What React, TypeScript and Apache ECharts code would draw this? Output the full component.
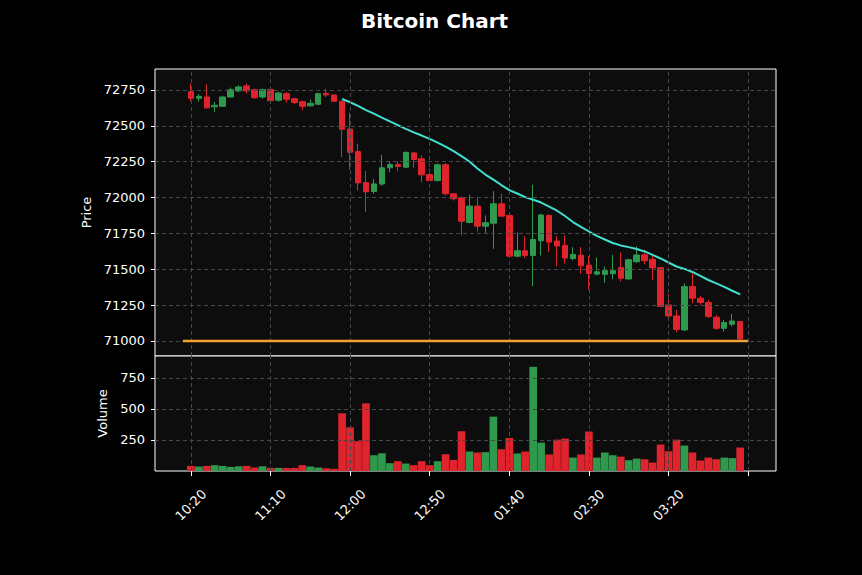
import React, { useEffect, useRef } from 'react';
import * as echarts from 'echarts';

const times = [
  '10:20', '10:25', '10:30', '10:35', '10:40', '10:45', '10:50', '10:55',
  '11:00', '11:05', '11:10', '11:15', '11:20', '11:25', '11:30', '11:35', '11:40', '11:45', '11:50', '11:55',
  '12:00', '12:05', '12:10', '12:15', '12:20', '12:25', '12:30', '12:35', '12:40', '12:45', '12:50', '12:55',
  '01:00', '01:05', '01:10', '01:15', '01:20', '01:25', '01:30', '01:35', '01:40', '01:45', '01:50', '01:55',
  '02:00', '02:05', '02:10', '02:15', '02:20', '02:25', '02:30', '02:35', '02:40', '02:45', '02:50', '02:55',
  '03:00', '03:05', '03:10', '03:15', '03:20', '03:25', '03:30', '03:35', '03:40', '03:45', '03:50', '03:55',
  '04:00', '04:05',
];
const padBefore = ['10:00', '10:05', '10:10', '10:15'];
const padAfter = ['04:10', '04:15', '04:20', '04:25'];

const opens = [
  72738, 72692, 72701, 72632, 72636, 72701, 72743, 72778, 72752, 72701,
  72754, 72678, 72724, 72689, 72668, 72639, 72650, 72726, 72715, 72671,
  72477, 72320, 72104, 72042, 72094, 72207, 72230, 72211, 72311, 72270,
  72160, 72118, 72228, 72026, 71996, 71826, 71940, 71800, 71821, 71956,
  71875, 71591, 71629, 71596, 71699, 71875, 71697, 71666, 71575, 71598,
  71528, 71466, 71464, 71469, 71511, 71432, 71552, 71601, 71569, 71511,
  71251, 71174, 71077, 71379, 71298, 71268, 71165, 71088, 71116, 71135,
];
const closes = [
  72692, 72705, 72625, 72643, 72701, 72752, 72771, 72743, 72696, 72752,
  72675, 72729, 72685, 72662, 72636, 72657, 72724, 72715, 72671, 72476,
  72315, 72102, 72040, 72095, 72207, 72230, 72216, 72315, 72265, 72158,
  72118, 72228, 72026, 71991, 71834, 71940, 71800, 71824, 71956, 71870,
  71591, 71629, 71596, 71707, 71878, 71689, 71662, 71578, 71603, 71524,
  71470, 71482, 71490, 71490, 71437, 71566, 71599, 71559, 71509, 71240,
  71174, 71081, 71379, 71298, 71268, 71170, 71088, 71128, 71139, 71014,
];
const lows = [
  72671, 72668, 72620, 72597, 72634, 72696, 72736, 72724, 72689, 72689,
  72659, 72668, 72662, 72650, 72608, 72638, 72648, 72701, 72668, 72283,
  72195, 72049, 71899, 72026, 72083, 72176, 72183, 72209, 72207, 72107,
  72115, 72111, 72014, 71979, 71735, 71820, 71763, 71747, 71643, 71868,
  71582, 71584, 71578, 71382, 71596, 71621, 71521, 71539, 71563, 71468,
  71357, 71457, 71405, 71430, 71414, 71427, 71545, 71536, 71427, 71238,
  71158, 71060, 71070, 71263, 71251, 71161, 71077, 71065, 71100, 71007,
];
const highs = [
  72796, 72722, 72789, 72666, 72710, 72766, 72782, 72794, 72759, 72759,
  72766, 72737, 72736, 72696, 72675, 72685, 72731, 72759, 72717, 72675,
  72592, 72376, 72185, 72130, 72297, 72253, 72251, 72320, 72316, 72293,
  72200, 72237, 72240, 72028, 72007, 72019, 71998, 71875, 72044, 72026,
  71882, 71754, 71730, 72089, 71887, 71882, 71731, 71736, 71654, 71654,
  71592, 71582, 71518, 71600, 71617, 71573, 71660, 71636, 71597, 71516,
  71325, 71216, 71402, 71472, 71314, 71286, 71181, 71146, 71188, 71139,
];
const volumes = [
  41, 36, 41, 47, 41, 33, 38, 41, 28, 38,
  25, 25, 25, 25, 47, 36, 28, 22, 17, 465,
  352, 240, 545, 127, 143, 63, 79, 60, 47, 79,
  47, 79, 135, 89, 320, 157, 149, 152, 438, 175,
  266, 141, 157, 840, 229, 133, 253, 261, 108, 133,
  318, 108, 149, 127, 116, 87, 100, 95, 68, 213,
  159, 253, 205, 149, 84, 108, 95, 108, 104, 189,
];
const maStartIndex = 19;
const maValues = [
  72687, 72664, 72639, 72609, 72585, 72557, 72531, 72505, 72479, 72454,
  72432, 72409, 72383, 72355, 72323, 72289, 72251, 72202, 72160, 72125,
  72087, 72052, 72028, 72003, 71984, 71965, 71937, 71908, 71871, 71829,
  71795, 71763, 71732, 71707, 71683, 71666, 71654, 71641, 71624, 71600,
  71575, 71547, 71519, 71502, 71481, 71453, 71425, 71401, 71377, 71350,
  71324,
];
const supportLevel = 71000;
const priceTicks = [71000, 71250, 71500, 71750, 72000, 72250, 72500, 72750];
const volumeTicks = [250, 500, 750];

const GREEN = '#2f9a4e';
const RED = '#e0242d';
const GRID_COLOR = '#474747';
const FONT = 'DejaVu Sans';

export default function App() {
  const ref = useRef<HTMLDivElement>(null);

  useEffect(() => {
    const chart = echarts.init(ref.current as HTMLDivElement, null, { renderer: 'svg' });
    const pad = padBefore.length;
    const cats = [...padBefore, ...times, ...padAfter];
    const n = cats.length;
    const empty = () => new Array(n).fill('-') as any[];

    const candleData: any[] = empty().map(() => ['-', '-', '-', '-']);
    const volData: any[] = empty();
    times.forEach((_, i) => {
      candleData[pad + i] = [opens[i], closes[i], lows[i], highs[i]];
      volData[pad + i] = {
        value: volumes[i],
        itemStyle: { color: closes[i] >= opens[i] ? GREEN : RED },
      };
    });
    const maData = empty();
    maValues.forEach((v, k) => {
      maData[pad + maStartIndex + k] = v;
    });
    const supportData = empty();
    for (let i = pad - 1; i <= pad + times.length; i++) supportData[i] = supportLevel;

    const tickIdx: number[] = [];
    for (let i = pad; i < n; i += 10) tickIdx.push(i);

    const gridLineStyle = { color: GRID_COLOR, width: 1, type: [4, 3] as any };
    const markBase = {
      silent: true,
      symbol: ['none', 'none'],
      label: { show: false },
      emphasis: { disabled: true },
      lineStyle: gridLineStyle,
      animation: false,
    };
    const plain = (v: number) => String(v);

    const option: any = {
      animation: false,
      backgroundColor: '#000',
      textStyle: { fontFamily: FONT },
      title: {
        text: 'Bitcoin Chart',
        left: 356,
        top: 6,
        textStyle: { color: '#fff', fontSize: 20, fontWeight: 'bold', fontFamily: FONT },
      },
      grid: [
        { left: 155, top: 69, width: 621, height: 287, show: true, borderColor: '#fff', borderWidth: 1, backgroundColor: '#0d0d0d' },
        { left: 155, top: 356, width: 621, height: 115, show: true, borderColor: '#fff', borderWidth: 1, backgroundColor: '#0d0d0d' },
      ],
      xAxis: [
        {
          type: 'category', gridIndex: 0, data: cats, boundaryGap: true,
          axisLine: { show: false }, axisTick: { show: false }, axisLabel: { show: false }, splitLine: { show: false },
        },
        {
          type: 'category', gridIndex: 1, data: cats, boundaryGap: true,
          axisLine: { show: false },
          axisTick: {
            show: true, alignWithLabel: true, length: 5, inside: false,
            interval: (i: number) => i >= pad && (i - pad) % 10 === 0,
            lineStyle: { color: '#fff', width: 1 },
          },
          axisLabel: {
            show: true, rotate: 45, color: '#fff', fontSize: 13, fontFamily: FONT, margin: 34,
            align: 'center', verticalAlign: 'middle',
            interval: (i: number) => i >= pad && i < pad + times.length && (i - pad) % 10 === 0,
          },
          splitLine: { show: false },
        },
      ],
      yAxis: [
        {
          type: 'value', gridIndex: 0, min: 70895, max: 72896, scale: true,
          name: 'Price', nameLocation: 'middle', nameGap: 55,
          nameTextStyle: { color: '#fff', fontSize: 13, fontFamily: FONT },
          axisLine: { show: false },
          axisTick: { show: true, length: 4, lineStyle: { color: '#fff' }, customValues: priceTicks },
          axisLabel: { color: '#fff', fontSize: 13, fontFamily: FONT, margin: 10, customValues: priceTicks, formatter: plain },
          splitLine: { show: false },
        },
        {
          type: 'value', gridIndex: 1, min: 0, max: 927,
          name: 'Volume', nameLocation: 'middle', nameGap: 34,
          nameTextStyle: { color: '#fff', fontSize: 13, fontFamily: FONT },
          axisLine: { show: false },
          axisTick: { show: true, length: 4, lineStyle: { color: '#fff' }, customValues: volumeTicks },
          axisLabel: { color: '#fff', fontSize: 13, fontFamily: FONT, margin: 10, customValues: volumeTicks, formatter: plain },
          splitLine: { show: false },
        },
      ],
      series: [
        {
          type: 'line', xAxisIndex: 0, yAxisIndex: 0, data: empty(), z: 1, symbol: 'none',
          markLine: {
            ...markBase,
            data: [...tickIdx.map((i) => ({ xAxis: i })), ...priceTicks.map((v) => ({ yAxis: v }))],
          },
        },
        {
          type: 'line', xAxisIndex: 1, yAxisIndex: 1, data: empty(), z: 1, symbol: 'none',
          markLine: {
            ...markBase,
            data: [...tickIdx.map((i) => ({ xAxis: i })), ...volumeTicks.map((v) => ({ yAxis: v }))],
          },
        },
        {
          type: 'candlestick', xAxisIndex: 0, yAxisIndex: 0, data: candleData, z: 3,
          barWidth: 6,
          itemStyle: { color: GREEN, color0: RED, borderColor: GREEN, borderColor0: RED, borderWidth: 1 },
        },
        {
          type: 'line', xAxisIndex: 0, yAxisIndex: 0, data: maData, z: 4,
          showSymbol: false, symbol: 'none', connectNulls: false,
          lineStyle: { color: '#40e0d0', width: 2 },
        },
        {
          type: 'line', xAxisIndex: 0, yAxisIndex: 0, data: supportData, z: 5,
          showSymbol: false, symbol: 'none',
          lineStyle: { color: '#f5a030', width: 2.5 },
        },
        {
          type: 'bar', xAxisIndex: 1, yAxisIndex: 1, data: volData, z: 3,
          barCategoryGap: '4%',
        },
      ],
    };
    chart.setOption(option);
    return () => chart.dispose();
  }, []);

  return (
    <div
      ref={ref}
      style={{ position: 'fixed', left: 0, top: 0, width: 862, height: 575, background: '#000' }}
    />
  );
}
